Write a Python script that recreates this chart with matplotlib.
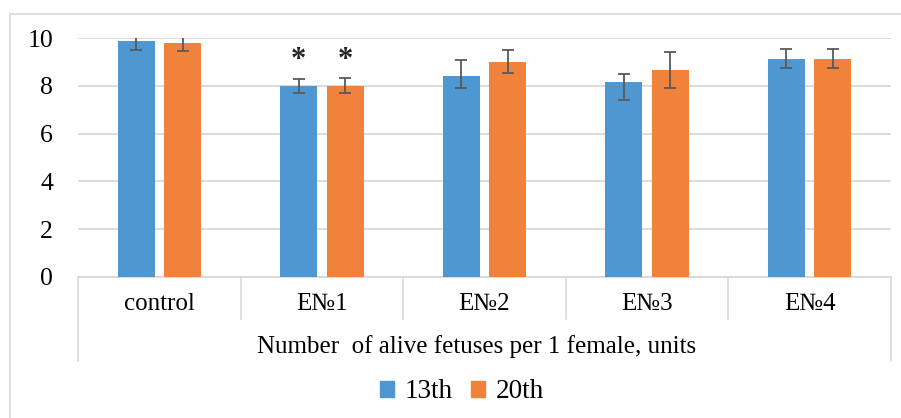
import matplotlib
matplotlib.use("Agg")
import matplotlib.pyplot as plt
import numpy as np
from matplotlib.lines import Line2D
from matplotlib.patches import Patch

# ---- data ----
categories = ['control', 'E№1', 'E№2', 'E№3', 'E№4']
series_names = ['13th', '20th']
vals_13 = [9.88, 8.01, 8.41, 8.15, 9.15]
vals_20 = [9.79, 8.01, 9.00, 8.66, 9.15]
err13_low = [0.37, 0.30, 0.50, 0.73, 0.40]
err13_high = [0.37, 0.29, 0.67, 0.36, 0.42]
err20_low = [0.32, 0.30, 0.45, 0.75, 0.40]
err20_high = [0.32, 0.34, 0.51, 0.77, 0.42]
star_categories = ['E№1']
star_level = 9.33
yticks = [0, 2, 4, 6, 8, 10]
x_title = 'Number  of alive fetuses per 1 female, units'

# ---- style ----
serif = ['Liberation Serif', 'DejaVu Serif']
plt.rcParams['font.family'] = serif
c13 = '#4F97D1'
c20 = '#F0823B'
grid_c = '#D9D9D9'
err_c = '#595959'

W, H = 901, 418
fig = plt.figure(figsize=(W / 100, H / 100), dpi=100)
fig.patch.set_facecolor('white')

# outer chart border (left and top visible)
fig.add_artist(Line2D([9.5 / W, 9.5 / W], [0, 1 - 13.5 / H], color=grid_c, lw=1.2,
                      transform=fig.transFigure))
fig.add_artist(Line2D([9.5 / W, 1.0], [1 - 13.5 / H, 1 - 13.5 / H], color=grid_c, lw=1.2,
                      transform=fig.transFigure))

left, right = 78 / W, 891 / W
bottom, top = 1 - 276.7 / H, 1 - 38.3 / H
ax = fig.add_axes([left, bottom, right - left, top - bottom])
ax_h_px = (top - bottom) * H

x = np.arange(len(categories)) + 0.5
bw = 0.227
off = 0.143

ax.bar(x - off, vals_13, bw, color=c13, zorder=3, label=series_names[0])
ax.bar(x + off, vals_20, bw, color=c20, zorder=3, label=series_names[1])
ax.errorbar(x - off, vals_13, yerr=[err13_low, err13_high], fmt='none', ecolor=err_c,
            elinewidth=1.3, capsize=4.3, capthick=1.3, zorder=4)
ax.errorbar(x + off, vals_20, yerr=[err20_low, err20_high], fmt='none', ecolor=err_c,
            elinewidth=1.3, capsize=4.3, capthick=1.3, zorder=4)

# asterisks: centre of glyph placed at star_level (shifted down by the glyph's high seat)
from matplotlib.transforms import offset_copy
star_tr = offset_copy(ax.transData, fig=fig, x=0, y=-6.5, units='dots')
for cat in star_categories:
    i = categories.index(cat)
    for xx in (x[i] - off, x[i] + off):
        ax.text(xx, star_level, '*', ha='center', va='center', fontsize=22,
                fontweight='bold', color='#262626', zorder=5, transform=star_tr)

ax.set_xlim(0, len(categories))
ax.set_ylim(0, 10)
ax.set_yticks(yticks)
ax.set_yticklabels([str(t) for t in yticks], fontsize=18.5)
ax.tick_params(axis='y', length=0, pad=18, colors='black')
ax.set_xticks([])
ax.yaxis.grid(True, color=grid_c, lw=1.3, zorder=0)
ax.set_axisbelow(True)
for s in ['top', 'right', 'left']:
    ax.spines[s].set_visible(False)
ax.spines['bottom'].set_color(grid_c)
ax.spines['bottom'].set_linewidth(1.3)

# category table beneath axis
tr = ax.get_xaxis_transform()
inner = -(319 - 276.7) / ax_h_px
outer = -(361 - 276.7) / ax_h_px
for k in range(len(categories) + 1):
    yb = outer if k in (0, len(categories)) else inner
    ax.add_line(Line2D([k, k], [0, yb], color=grid_c, lw=1.2, transform=tr, clip_on=False))
for xi, cat in zip(x, categories):
    ax.text(xi, -(304 - 276.7) / ax_h_px, cat, transform=tr, ha='center', va='center',
            fontsize=18)
ax.text(len(categories) / 2 - 0.05, -(347 - 276.7) / ax_h_px, x_title, transform=tr,
        ha='center', va='center', fontsize=18)

handles = [Patch(color=c13), Patch(color=c20)]
fig.legend(handles, series_names, loc='center', bbox_to_anchor=(462 / W, 1 - 392 / H),
           ncol=2, frameon=False, fontsize=19.5, handlelength=0.5, handleheight=0.5,
           handletextpad=0.4, columnspacing=0.7, borderpad=0)

fig.savefig('out.png', dpi=100, facecolor='white')
